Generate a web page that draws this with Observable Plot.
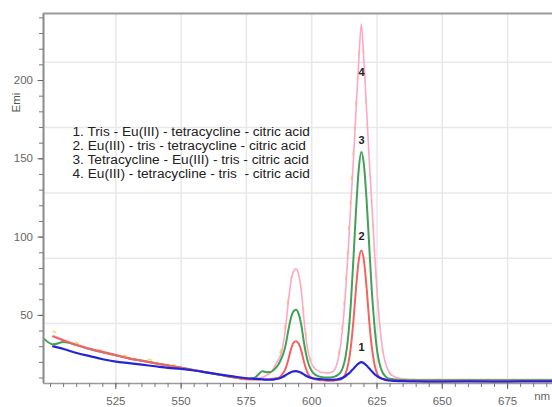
<!DOCTYPE html>
<html><head><meta charset="utf-8">
<script src="https://cdn.jsdelivr.net/npm/d3@7"></script>
<script src="https://cdn.jsdelivr.net/npm/@observablehq/plot@0.6"></script>
<style>body{margin:0;background:#fff;} svg{display:block}</style>
</head><body><div id="chart"></div>
<script>
// wavelength (nm)
const wavelength = [497.5,501,505,510,515,520,525,530,535,540,545,550,555,560,565,570,573,576,578,580,581,582,583,584,585,586,587,588,589,590,591,592,593,594,595,596,597,598,599,600,601,602,604,606,608,609,610,611,612,613,614,615,616,617,618,619,620,621,622,623,624,625,626,627,628,629,630,632,635,640,650,660,670,680,692];
// 1. Tris - Eu(III) - tetracycline - citric acid (blue)
const series1 = [null,30.2,28.5,26,24,22,20.5,19.5,18.5,17.5,16.5,15.8,14.8,13.5,12.2,11,10.3,9.7,9.5,9.3,9.2,9,9,9,9,9.2,9.5,10,10.8,11.8,12.8,13.7,14.2,14.4,14,13.3,12.3,11.3,10.5,10,9.7,9.5,9.2,9,8.9,9,9.2,9.6,10.3,11.3,12.6,14.2,16,17.8,19.3,20.1,19.4,18,16.2,14.3,12.6,11.2,10.2,9.5,9,8.6,8.4,8.2,8,7.8,7.7,7.8,7.7,7.8,7.8];
// 2. Eu(III) - tris - tetracycline - citric acid (red)
const series2 = [null,36.5,34,31,28.5,26.5,24.5,22.5,21,19.5,18,16.5,15,13.5,12,10.5,9.5,9,9,9,9,9,9,9.2,9.5,9.8,10,11,13,16,21.5,28,32.5,33.5,32,27.5,20.5,15,11.5,10,9.3,9,8.5,8.3,8.3,8.5,8.7,9,10,13,19,30,47,68,85,91.4,85,68,47,30,19,13,10.5,9.5,9,8.7,8.5,8.3,8.2,8,8,8,8,8,8];
// 3. Tetracycline - Eu(III) - tris - citric acid (green)
const series3 = [35,31.5,33,31,28.5,26.5,24.5,22.5,21,19.5,18,16.5,15,13.5,12,10.5,9.8,9.5,10,13,14.4,14,13.7,13.8,14.5,16,18,21,25,31,40,48,52.5,53.6,51,44,33,24,18,14.5,12.5,11.5,10.5,10.3,10.5,11,12,13.5,17,24,37,58,87,118,143,154.3,146,124,95,66,44,28,19,14,11.5,10,9.5,9,8.7,8.5,8.5,8.5,8.5,8.5,8.5];
// 4. Eu(III) - tetracycline - tris - citric acid (pink)
const series4 = [null,37,34.5,31.5,29,27,25,23,21.3,19.8,18.3,16.8,15.2,13.7,12.2,10.8,9.8,9.5,9.5,10,10.5,11,12,13,15,18,21,24,31,42,58,71,78,79.7,76,66,48,33,24,19,16.5,15,13.5,13.2,14,16,21,30,45,66,92,122,150,182,212,236,212,182,150,122,92,66,45,30,21,16,13,10.5,9.5,9,9,9,9,9,9];
// partially hidden extra trace (yellow)
const series5 = [null,40,36,32.5,29.5,27.5,25.5,24,22.5,21,19,17.5,15.5,14,12.5,11,10.3,10,10.5,12,14,12,12.5,13.5,15.5,18.5,22,27,34,47,62,73,78.5,79,75,67,52,36,25,19.5,16.5,15,13.5,13.2,14.5,17,23,33,50,72,100,130,158,188,216,234,211,181,149,121,91,65,44,29,20,15.5,12.5,10.5,9.5,9,9,9,9,9,9];

const xTicks = [525,550,575,600,625,650,675];
const yTicks = [50,100,150,200];
const gridY = [44.8,86.5,128.2,170,211.7];
const legendLines = [
  "1. Tris - Eu(III) - tetracycline - citric acid",
  "2. Eu(III) - tris - tetracycline - citric acid",
  "3. Tetracycline - Eu(III) - tris - citric acid",
  "4. Eu(III) - tetracycline - tris  - citric acid"
];
const peakLabels = ["1","2","3","4"];
const peakLabelValues = [29.7,100.4,161.7,205.3];

const xDomain = [497.3, 692.2];
const yDomain = [6.5, 242.8];
const xMinor = d3.range(500, 692, 5);
const yMinor = d3.range(10, 241, 10);

const rows = s => wavelength.map((w, i) => ({w, v: s[i]}));

const plot = Plot.plot({
  width: 552, height: 407,
  marginLeft: 43, marginRight: 0, marginTop: 13, marginBottom: 24,
  x: {domain: xDomain, label: null},
  y: {domain: yDomain, label: null},
  style: {fontFamily: "'Liberation Sans', Arial, sans-serif", background: "#fff", overflow: "visible"},
  marks: [
    Plot.ruleX(xTicks, {stroke: "#e8e8e8", strokeWidth: 1.5}),
    Plot.ruleY(gridY, {stroke: "#e8e8e8", strokeWidth: 1.5}),
    Plot.line(rows(series5), {x: "w", y: "v", stroke: "#f2d64a", strokeWidth: 1.6, strokeOpacity: 0.85, strokeDasharray: "3,22", curve: "monotone-x"}),
    Plot.line(rows(series4), {x: "w", y: "v", stroke: "#ffa8c6", strokeWidth: 1.6, curve: "monotone-x"}),
    Plot.line(rows(series3), {x: "w", y: "v", stroke: "#41a157", strokeWidth: 2, curve: "monotone-x"}),
    Plot.line(rows(series2), {x: "w", y: "v", stroke: "#f26464", strokeWidth: 2, curve: "monotone-x"}),
    Plot.line(rows(series1), {x: "w", y: "v", stroke: "#2525d6", strokeWidth: 2.2, curve: "monotone-x"}),
    Plot.ruleX([xDomain[0]], {stroke: "#8a8a8a", strokeWidth: 2}),
    Plot.ruleY([yDomain[1]], {stroke: "#9a9a9a", strokeWidth: 2}),
    Plot.ruleY([yDomain[0]], {stroke: "#9a9a9a", strokeWidth: 1.5}),
    Plot.axisX({ticks: xMinor, tickSize: 4, tickFormat: () => "", color: "#777", label: null}),
    Plot.axisX({ticks: xTicks, tickSize: 6, tickPadding: 7, fontSize: 11.5, color: "#666", label: null}),
    Plot.axisY({ticks: yMinor, tickSize: 4, tickFormat: () => "", color: "#777", label: null}),
    Plot.axisY({ticks: yTicks, tickSize: 5.5, tickPadding: 5, fontSize: 11.5, color: "#666", label: null}),
    Plot.text(legendLines, {x: 508.4, y: [167.4,158.5,149.5,140.6], text: d => d, textAnchor: "start", fontSize: 13.7, fill: "#222"}),
    Plot.text(peakLabels, {x: 619.1, y: peakLabelValues, text: d => d, fontWeight: "bold", fontSize: 11, fill: "#222"}),
    Plot.text(["Emi"], {frameAnchor: "left", y: [179.6], dx: -27.5, rotate: -90, text: d => d, fontSize: 11.5, fill: "#555"}),
    Plot.text(["nm"], {x: [685.2], frameAnchor: "bottom", dy: 16, text: d => d, textAnchor: "start", fontSize: 11.5, fill: "#666"})
  ]
});
document.getElementById("chart").appendChild(plot);
</script>
</body></html>
